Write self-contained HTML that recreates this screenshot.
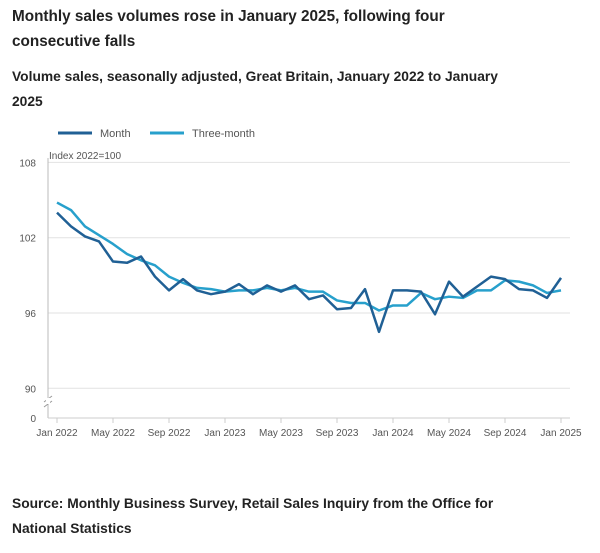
<!DOCTYPE html>
<html><head><meta charset="utf-8">
<style>
body{margin:0;width:600px;height:553px;background:#fff;font-family:"Liberation Sans",sans-serif;color:#222;overflow:hidden}
.t{position:absolute;left:12px;font-weight:bold;font-size:15.3px;line-height:25px}
svg{position:absolute;left:0;top:0}
</style></head><body>
<div class="t" style="top:4px;width:480px">Monthly sales volumes rose in January 2025, following four consecutive falls</div>
<div class="t" style="top:64px;font-size:13.8px;width:500px">Volume sales, seasonally adjusted, Great Britain, January 2022 to January 2025</div>
<div class="t" style="top:491px;font-size:13.8px;width:500px">Source: Monthly Business Survey, Retail Sales Inquiry from the Office for National Statistics</div>
<svg id="c" width="600" height="553"></svg>
<script>
const monthSeries=[104.0,102.9,102.1,101.7,100.1,100.0,100.5,98.9,97.8,98.7,97.8,97.5,97.7,98.3,97.5,98.2,97.7,98.2,97.1,97.4,96.3,96.4,97.9,94.5,97.8,97.8,97.7,95.9,98.5,97.3,98.1,98.9,98.7,97.9,97.8,97.2,98.8];
const threeMonthSeries=[104.8,104.2,102.9,102.2,101.5,100.7,100.2,99.8,98.9,98.4,98.0,97.9,97.7,97.8,97.8,98.0,97.8,98.0,97.7,97.7,97.0,96.8,96.8,96.2,96.6,96.6,97.6,97.1,97.3,97.2,97.8,97.8,98.6,98.5,98.2,97.6,97.8];
const yTicks=[90,96,102,108];
const xTickLabels=["Jan 2022","May 2022","Sep 2022","Jan 2023","May 2023","Sep 2023","Jan 2024","May 2024","Sep 2024","Jan 2025"];
const xTickIdx=[0,4,8,12,16,20,24,28,32,36];
const NS="http://www.w3.org/2000/svg";
const svg=document.getElementById('c');
const X=i=>57+i*14;
const Y=v=>313-(v-96)*12.55;
function el(t,a,txt){const e=document.createElementNS(NS,t);for(const k in a)e.setAttribute(k,a[k]);if(txt!==undefined)e.textContent=txt;svg.appendChild(e);return e;}
yTicks.forEach(v=>{
 const g=el('line',{x1:48,x2:570,y1:Y(v),y2:Y(v),stroke:'#e2e2e2','stroke-width':1});
 
 
 const t=el('text',{x:36,y:Y(v)+4,'text-anchor':'end','font-size':10,fill:'#555'},v);
 
 
});
const z=el('text',{x:36,y:422,'text-anchor':'end','font-size':10,fill:'#555'},'0');


const ya=el('line',{x1:48,x2:48,y1:158,y2:418,stroke:'#bbb'});


const brk=el('path',{d:'M44,402 L52,396 M44,407 L52,401',stroke:'#999',fill:'none'});


const br2=el('rect',{x:46,y:398,width:4,height:6,fill:'#fff'});


const xa=el('line',{x1:48,x2:570,y1:418,y2:418,stroke:'#ccc'});


const yt=el('text',{x:49,y:159,'font-size':10,fill:'#555'},'Index 2022=100');


xTickIdx.forEach((i,k)=>{
 const tk=el('line',{x1:X(i),x2:X(i),y1:418,y2:423,stroke:'#ccc'});
 
 
 const t=el('text',{x:X(i),y:436,'text-anchor':'middle','font-size':10,fill:'#555'},xTickLabels[k]);
 
 
});
function line(data,color,name){
 const p=el('polyline',{points:data.map((v,i)=>X(i)+','+Y(v)).join(' '),fill:'none',stroke:color,'stroke-width':2.5,'stroke-linejoin':'round'});
 
 
}
line(threeMonthSeries,'#27a0cc','three-month-line');
line(monthSeries,'#206095','month-line');
[[58,'#206095','Month','legend-month'],[150,'#27a0cc','Three-month','legend-three-month']].forEach(l=>{
 const s=el('line',{x1:l[0],x2:l[0]+34,y1:133,y2:133,stroke:l[1],'stroke-width':3});
 
 
 const t=el('text',{x:l[0]+42,y:137,'font-size':11,fill:'#555'},l[2]);
 
 
});
</script>
</body></html>
